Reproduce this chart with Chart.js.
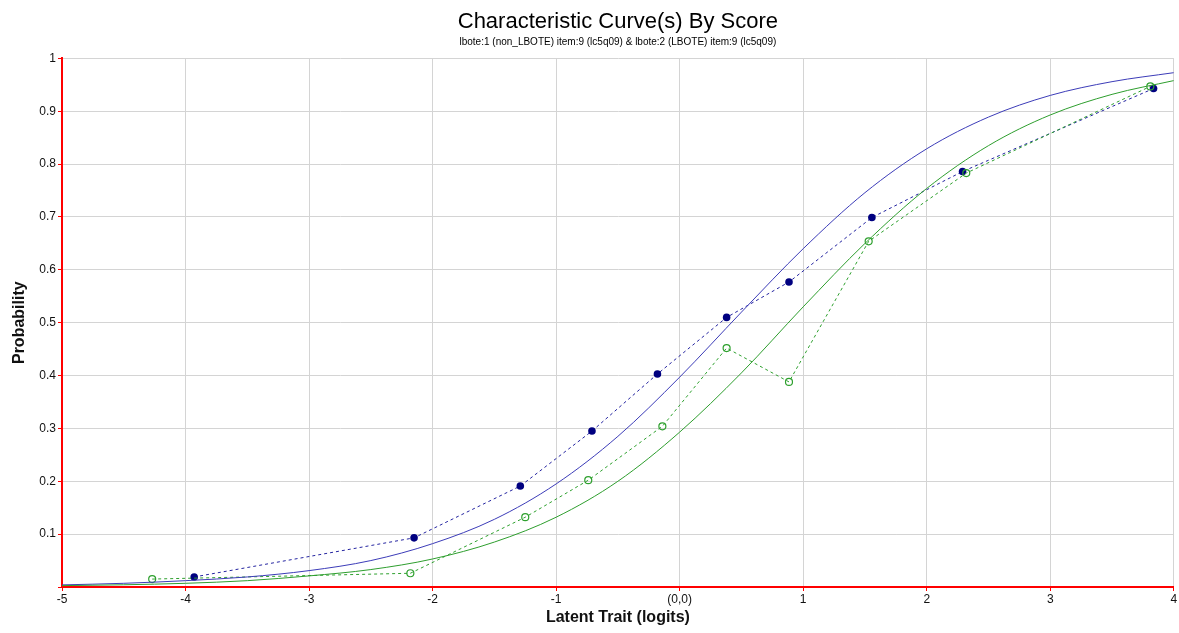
<!DOCTYPE html>
<html>
<head>
<meta charset="utf-8">
<script src="https://cdn.jsdelivr.net/npm/chart.js@4/dist/chart.umd.min.js"></script>
<style>
  html, body { margin: 0; padding: 0; background: #fff; }
  #wrap { width: 1179px; height: 633px; }
</style>
</head>
<body>
<div id="wrap"><canvas id="iccChart"></canvas></div>
<script>
// Observed points (dashed with markers)
const obsThetaA = [-3.93, -2.15, -1.29, -0.71, -0.18, 0.38, 0.885, 1.556, 2.29, 3.836];
const obsProbA = [0.019, 0.093, 0.191, 0.295, 0.403, 0.510, 0.577, 0.699, 0.786, 0.943];
const obsThetaB = [-4.27, -2.18, -1.25, -0.74, -0.14, 0.38, 0.885, 1.53, 2.32, 3.81];
const obsProbB = [0.015, 0.026, 0.132, 0.202, 0.304, 0.452, 0.388, 0.654, 0.783, 0.947];

// Model curves (solid)
const curveTheta = [-5, -4.5, -4, -3.5, -3, -2.5, -2, -1.5, -1, -0.5, 0, 0.5, 1, 1.5, 2, 2.5, 3, 3.5, 4];
const curveProbA = [0.004, 0.007, 0.012, 0.019, 0.031, 0.050, 0.082, 0.128, 0.195, 0.285, 0.397, 0.52, 0.64, 0.746, 0.829, 0.889, 0.930, 0.956, 0.973];
const curveProbB = [0.0026, 0.0042, 0.007, 0.012, 0.021, 0.033, 0.053, 0.085, 0.132, 0.20, 0.293, 0.405, 0.53, 0.65, 0.754, 0.835, 0.893, 0.932, 0.958];

// Tick labels
const xTickLabels = ["-5", "-4", "-3", "-2", "-1", "(0,0)", "1", "2", "3", "4"];
const yTickLabels = ["", "0.1", "0.2", "0.3", "0.4", "0.5", "0.6", "0.7", "0.8", "0.9", "1"];

function toPoints(xs, ys) {
    return xs.map(function (x, i) { return { x: x, y: ys[i] }; });
}

const tickFont = { family: "'Liberation Sans', Arial, sans-serif", size: 12 };
const axisTitleFont = { family: "'Liberation Sans', Arial, sans-serif", size: 16, weight: "bold" };

const ctx = document.getElementById("iccChart").getContext("2d");
new Chart(ctx, {
    type: "line",
    data: {
        datasets: [
            {
                data: toPoints(curveTheta, curveProbB),
                borderColor: "#2e9e2e",
                borderWidth: 1,
                pointRadius: 0,
                cubicInterpolationMode: "monotone"
            },
            {
                data: toPoints(curveTheta, curveProbA),
                borderColor: "#3c3cb8",
                borderWidth: 1,
                pointRadius: 0,
                cubicInterpolationMode: "monotone"
            },
            {
                data: toPoints(obsThetaB, obsProbB),
                borderColor: "#2ea02e",
                borderWidth: 1,
                borderDash: [3, 3],
                pointRadius: 3.5,
                pointBorderWidth: 1.2,
                pointBorderColor: "#2ea02e",
                pointBackgroundColor: "rgba(255,255,255,0)"
            },
            {
                data: toPoints(obsThetaA, obsProbA),
                borderColor: "#2424a0",
                borderWidth: 1,
                borderDash: [3, 3],
                pointRadius: 3.8,
                pointBorderWidth: 0,
                pointBackgroundColor: "#000080"
            }
        ]
    },
    options: {
        responsive: true,
        maintainAspectRatio: false,
        animation: false,
        layout: { padding: { right: 4, top: 0, bottom: 0, left: 0 } },
        plugins: {
            legend: { display: false },
            tooltip: { enabled: false },
            title: {
                display: true,
                text: "Characteristic Curve(s) By Score",
                color: "#000",
                fullSize: false,
                font: { family: "'Liberation Sans', Arial, sans-serif", size: 22, weight: "normal" },
                padding: { top: 9, bottom: 1 }
            },
            subtitle: {
                display: true,
                text: "lbote:1 (non_LBOTE) item:9 (lc5q09) & lbote:2 (LBOTE) item:9 (lc5q09)",
                color: "#000",
                fullSize: false,
                font: { family: "'Liberation Sans', Arial, sans-serif", size: 10 },
                padding: { top: 0, bottom: 10 }
            }
        },
        scales: {
            x: {
                type: "linear",
                min: -5,
                max: 4,
                ticks: {
                    stepSize: 1,
                    color: "#111",
                    font: tickFont,
                    padding: 1,
                    maxRotation: 0,
                    callback: function (value, index) { return xTickLabels[index]; }
                },
                grid: { color: "#d4d4d4", lineWidth: 1, tickColor: "#ff0000", tickLength: 4 },
                border: { color: "#ff0000", width: 2 },
                title: {
                    display: true,
                    text: "Latent Trait (logits)",
                    color: "#111",
                    font: axisTitleFont,
                    padding: { top: 4, bottom: 6 }
                },
                afterFit: function (scale) { scale.height = 46; }
            },
            y: {
                type: "linear",
                min: 0,
                max: 1,
                ticks: {
                    stepSize: 0.1,
                    color: "#111",
                    font: tickFont,
                    padding: 2,
                    callback: function (value, index) { return yTickLabels[index]; }
                },
                grid: { color: "#d4d4d4", lineWidth: 1, tickColor: "#ff0000", tickLength: 4 },
                border: { color: "#ff0000", width: 2 },
                title: {
                    display: true,
                    text: "Probability",
                    color: "#111",
                    font: axisTitleFont,
                    padding: { top: 10, bottom: 4 }
                },
                afterFit: function (scale) { scale.width = 62; }
            }
        }
    }
});
</script>
</body>
</html>
